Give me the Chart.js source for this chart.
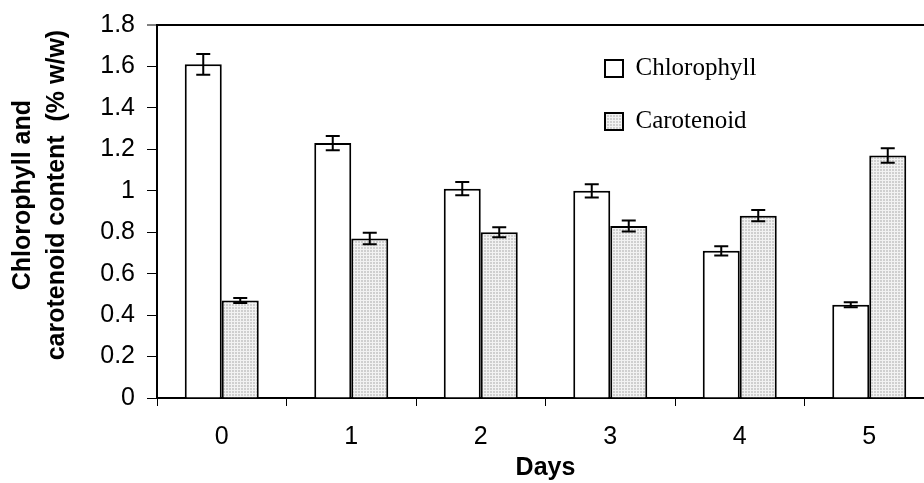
<!DOCTYPE html>
<html>
<head>
<meta charset="utf-8">
<script src="https://cdn.jsdelivr.net/npm/chart.js@4.4.1/dist/chart.umd.min.js"></script>
<style>
  html, body { margin: 0; padding: 0; background: #fff; overflow: hidden; }
  #wrap { width: 940px; height: 483px; }
</style>
</head>
<body>
<div id="wrap"><canvas id="c" width="940" height="483"></canvas></div>
<script>
const days = ['0', '1', '2', '3', '4', '5'];
const chlorophyll = [1.61, 1.23, 1.01, 1.00, 0.71, 0.45];
const carotenoid = [0.47, 0.77, 0.80, 0.83, 0.88, 1.17];
const chlorophyllErr = [0.05, 0.034, 0.032, 0.032, 0.022, 0.012];
const carotenoidErr = [0.012, 0.028, 0.024, 0.027, 0.027, 0.035];
const yTicks = ['0', '0.2', '0.4', '0.6', '0.8', '1', '1.2', '1.4', '1.6', '1.8'];
const seriesNames = ['Chlorophyll', 'Carotenoid'];
const yTitle = ['Chlorophyll and', 'carotenoid content  (% w/w)'];
const xTitle = 'Days';

const SANS = 'Arial, "Liberation Sans", sans-serif';

// dotted grey fill like the original
function makePattern() {
  const p = document.createElement('canvas');
  p.width = 3; p.height = 3;
  const g = p.getContext('2d');
  g.fillStyle = '#cfcfcf';
  g.fillRect(0, 0, 3, 3);
  g.fillStyle = '#f2f2f2';
  g.fillRect(0, 0, 3, 1);
  g.fillRect(0, 0, 1, 3);
  return g.createPattern(p, 'repeat');
}
const pattern = makePattern();
const errors = [chlorophyllErr, carotenoidErr];

const errorBars = {
  id: 'errorBars',
  afterDatasetsDraw(chart) {
    const ctx = chart.ctx;
    const ys = chart.scales.y;
    ctx.save();
    ctx.strokeStyle = '#000';
    ctx.lineWidth = 2;
    chart.data.datasets.forEach((ds, di) => {
      const meta = chart.getDatasetMeta(di);
      meta.data.forEach((bar, i) => {
        const v = ds.data[i], e = errors[di][i];
        const x = bar.x;
        const yTop = ys.getPixelForValue(v + e);
        const yBot = ys.getPixelForValue(v - e);
        ctx.beginPath();
        ctx.moveTo(x, yTop); ctx.lineTo(x, yBot);
        ctx.moveTo(x - 7, yTop); ctx.lineTo(x + 7, yTop);
        ctx.moveTo(x - 7, yBot); ctx.lineTo(x + 7, yBot);
        ctx.stroke();
      });
    });
    ctx.restore();
  }
};

// y-axis title, two lines, placed as in the original (slightly above the plot centre)
const yAxisTitle = {
  id: 'yAxisTitle',
  afterDraw(chart) {
    const ctx = chart.ctx;
    const ca = chart.chartArea;
    const cy = ca.top + (ca.bottom - ca.top) * 0.456;
    ctx.save();
    ctx.fillStyle = '#000';
    ctx.font = 'bold 25px ' + SANS;
    ctx.textAlign = 'center';
    ctx.textBaseline = 'middle';
    const xs = [23, 57.5];
    yTitle.forEach((line, i) => {
      ctx.save();
      ctx.translate(xs[i], cy);
      ctx.rotate(-Math.PI / 2);
      ctx.fillText(line, 0, 0);
      ctx.restore();
    });
    ctx.restore();
  }
};

const placeLegend = {
  id: 'placeLegend',
  afterLayout(chart) {
    const lg = chart.legend;
    if (!lg) return;
    const w = lg.width, h = lg.height;
    lg.left = 577; lg.top = 28;
    lg.right = lg.left + w; lg.bottom = lg.top + h;
  }
};

new Chart(document.getElementById('c'), {
  type: 'bar',
  data: {
    labels: days,
    datasets: [
      { label: seriesNames[0], data: chlorophyll, backgroundColor: '#ffffff', borderColor: '#000', borderWidth: 2 },
      { label: seriesNames[1], data: carotenoid, backgroundColor: pattern, borderColor: '#000', borderWidth: 2 }
    ]
  },
  options: {
    responsive: false,
    animation: false,
    devicePixelRatio: 1,
    layout: { padding: { left: 0, top: 25, right: 6, bottom: 0 } },
    datasets: { bar: { categoryPercentage: 0.5714, barPercentage: 1.0 } },
    plugins: {
      legend: {
        position: 'chartArea',
        align: 'start',
        labels: {
          boxWidth: 18, boxHeight: 17, padding: 28, color: '#000',
          font: { family: "'Liberation Serif', 'Times New Roman', serif", size: 25 }
        }
      },
      tooltip: { enabled: false },
      title: { display: false }
    },
    scales: {
      x: {
        type: 'category',
        offset: true,
        grid: { display: true, drawOnChartArea: false, offset: true, tickLength: 8, tickColor: '#000', tickWidth: 1 },
        border: { display: true, color: '#000', width: 2 },
        ticks: { color: '#000', padding: 16, font: { family: SANS, size: 25 } },
        title: { display: true, text: xTitle, color: '#000', padding: { top: 0, bottom: 0 },
                 font: { family: SANS, size: 25, weight: 'bold' } },
        afterFit(s) { s.height = 85; s.paddingLeft = 0; s.paddingRight = 0; }
      },
      y: {
        min: 0, max: 1.8,
        ticks: { stepSize: 0.2, color: '#000', padding: 12,
                 font: { family: SANS, size: 25 },
                 callback: (v, i) => yTicks[i] },
        grid: {
          drawOnChartArea: true, tickLength: 10, tickColor: '#000', tickWidth: 1,
          color: (c) => (c.tick && Math.abs(c.tick.value - 1.8) < 1e-6) ? '#000' : 'rgba(0,0,0,0)',
          lineWidth: (c) => (c.tick && Math.abs(c.tick.value - 1.8) < 1e-6) ? 2 : 1
        },
        border: { display: true, color: '#000', width: 2 },
        title: { display: false },
        afterFit(s) { s.width = 157; s.paddingTop = 0; s.paddingBottom = 0; }
      }
    }
  },
  plugins: [errorBars, placeLegend, yAxisTitle]
});
</script>
</body>
</html>
